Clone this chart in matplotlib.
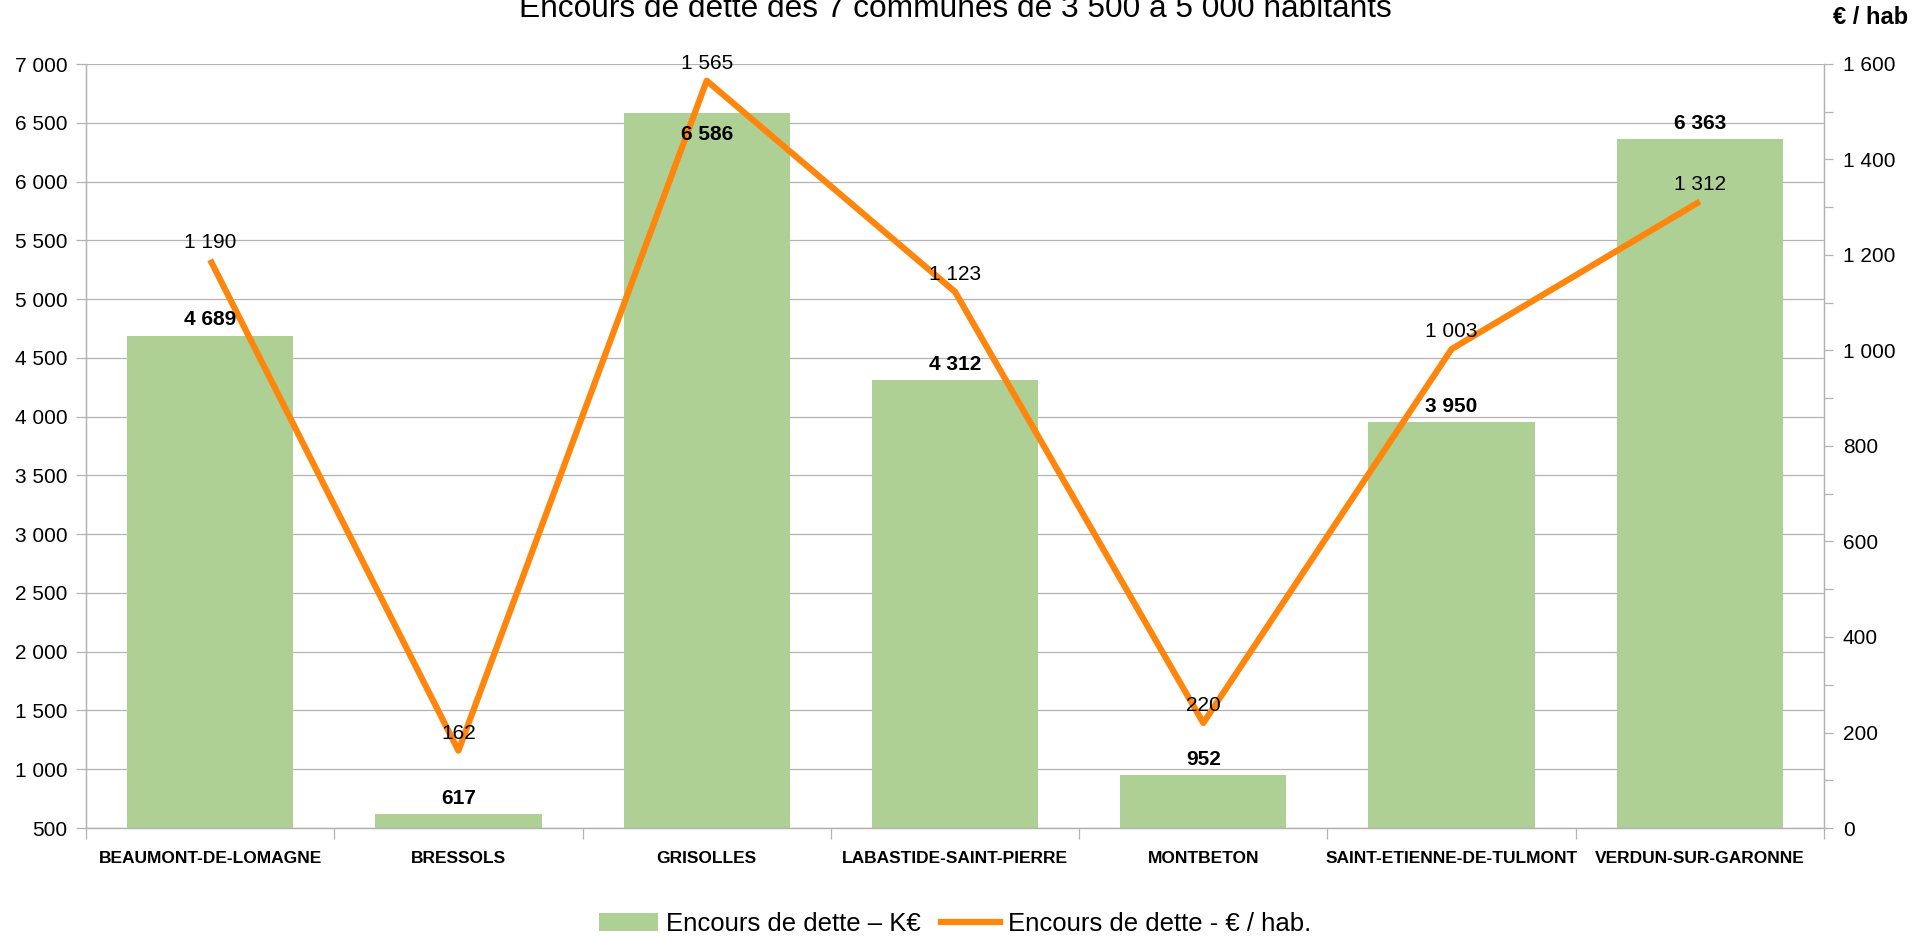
import matplotlib
matplotlib.use("Agg")
import matplotlib.pyplot as plt
from matplotlib.ticker import FixedLocator, MultipleLocator, FuncFormatter
from matplotlib.patches import Patch
from matplotlib.lines import Line2D

plt.rcParams['font.family'] = ['Liberation Sans', 'DejaVu Sans']

communes = ["BEAUMONT-DE-LOMAGNE", "BRESSOLS", "GRISOLLES", "LABASTIDE-SAINT-PIERRE",
            "MONTBETON", "SAINT-ETIENNE-DE-TULMONT", "VERDUN-SUR-GARONNE"]
dette_keur = [4689, 617, 6586, 4312, 952, 3950, 6363]
dette_hab = [1190, 162, 1565, 1123, 220, 1003, 1312]
left_ticks = list(range(500, 7001, 500))
right_ticks = list(range(0, 1601, 200))

title = "Encours de dette des 7 communes de 3 500 à 5 000 habitants"
label_bar = "Encours de dette – K€"
label_line = "Encours de dette - € / hab."

GREEN = "#afd095"
ORANGE = "#ff860d"
GRID = "#b3b3b3"

def fmt(v, pos=None):
    return f"{int(v):,}".replace(",", " ")

fig = plt.figure(figsize=(19.27, 9.36), dpi=100)
ax = fig.add_axes([86/1927, 1-828/936, (1824-86)/1927, (828-64)/936])
ax2 = ax.twinx()

x = list(range(len(communes)))
ax.bar(x, dette_keur, width=0.67, color=GREEN, zorder=2)
ax.set_xlim(-0.5, len(communes)-0.5)
ax.set_ylim(500, 7000)
ax.yaxis.set_major_locator(FixedLocator(left_ticks))
ax.yaxis.set_major_formatter(FuncFormatter(fmt))
ax.grid(axis='y', color=GRID, linewidth=0.9, zorder=0)
ax.set_axisbelow(True)
ax.set_xticks(x)
ax.set_xticklabels(communes, fontsize=12.5, fontweight='bold')
ax.xaxis.set_minor_locator(FixedLocator([i+0.5 for i in range(-1, len(communes))]))
ax.tick_params(axis='x', which='major', length=0, pad=16.8)
ax.tick_params(axis='x', which='minor', length=8, width=0.9, color=GRID, direction='out')
ax.tick_params(axis='y', which='major', length=7, width=0.9, color=GRID, labelsize=15, pad=6.5)

for a in (ax, ax2):
    a.spines['top'].set_visible(False)
    for sp in ['left', 'right', 'bottom']:
        a.spines[sp].set_color(GRID)
        a.spines[sp].set_linewidth(0.9)

ax2.plot(x, dette_hab, color=ORANGE, linewidth=4.5, solid_capstyle='butt', zorder=3)
ax2.set_ylim(0, 1600)
ax2.yaxis.set_major_locator(FixedLocator(right_ticks))
ax2.yaxis.set_minor_locator(MultipleLocator(100))
ax2.yaxis.set_major_formatter(FuncFormatter(fmt))
ax2.tick_params(axis='y', which='both', length=6.5, width=0.9, color=GRID, labelsize=15, pad=7)

# bar value labels
for i, v in enumerate(dette_keur):
    off = -15.5 if v > 6500 else 11.3
    ax2.annotate(fmt(v), xy=(i, (v-500)/6500*1600), xytext=(0, off), textcoords='offset points',
                 ha='center', va='center', fontsize=15, fontweight='bold', zorder=5)
# line value labels
for i, v in enumerate(dette_hab):
    ax2.annotate(fmt(v), xy=(i, v), xytext=(0, 12.4), textcoords='offset points',
                 ha='center', va='center', fontsize=15, zorder=5)

fig.text(955/1927, 1-17/936, title, ha='center', va='baseline', fontsize=22.8)
fig.text(1908/1927, 1-17.5/936, "€ / hab", ha='right', va='center', fontsize=17, fontweight='bold')

handles = [Patch(facecolor=GREEN, edgecolor='none'), Line2D([0], [0], color=ORANGE, linewidth=4.5)]
fig.legend(handles, [label_bar, label_line], loc='center', bbox_to_anchor=(955/1927, 1-924/936),
           ncol=2, frameon=False, fontsize=18.5, handlelength=2.3, handletextpad=0.3,
           columnspacing=0.8, borderpad=0, borderaxespad=0)

fig.savefig("out.png", dpi=100)
